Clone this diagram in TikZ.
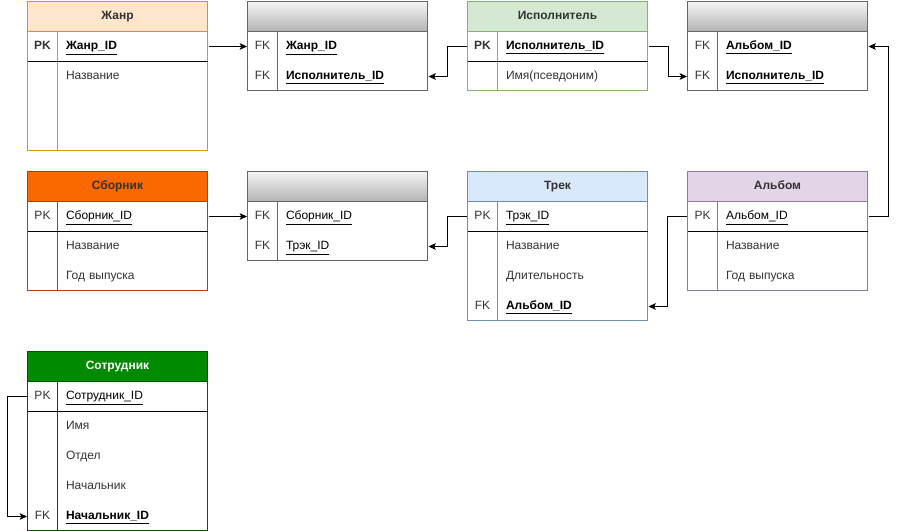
\documentclass[tikz,border=0pt]{standalone}
\usepackage{fontspec}
\setmainfont{Liberation Sans}
\usetikzlibrary{arrows.meta}

\definecolor{zhanrfill}{HTML}{FFE6CC}
\definecolor{zhanrline}{HTML}{D79B00}
\definecolor{ispfill}{HTML}{D5E8D4}
\definecolor{ispline}{HTML}{82B366}
\definecolor{sbfill}{HTML}{FA6800}
\definecolor{sbline}{HTML}{C73500}
\definecolor{trfill}{HTML}{DAE8FC}
\definecolor{trline}{HTML}{6C8EBF}
\definecolor{alfill}{HTML}{E1D5E7}
\definecolor{alline}{HTML}{9673A6}
\definecolor{sofill}{HTML}{008A00}
\definecolor{soline}{HTML}{005700}
\definecolor{jline}{HTML}{666666}
\definecolor{jtop}{HTML}{F5F5F5}
\definecolor{jbot}{HTML}{B3B3B3}
\definecolor{txt}{HTML}{333333}

\begin{document}
\begin{tikzpicture}[x=0.75pt,y=-0.75pt,line width=0.75pt,
    font=\fontsize{9}{11}\selectfont,
    head/.style={minimum width=135pt,minimum height=22.5pt,inner sep=0pt,
        text height=6.8pt,text depth=1.9pt,
        font=\fontsize{9}{11}\selectfont\bfseries,text=txt},
    junc/.style={head,draw=jline,top color=jtop,bottom color=jbot},
    key/.style={minimum width=22.5pt,minimum height=22.5pt,inner sep=0pt,
        text height=6.8pt,text depth=1.9pt,text=txt},
    field/.style={anchor=west,text width=100.5pt,inner xsep=6pt,inner ysep=0pt,
        text height=6.8pt,text depth=1.9pt,
        minimum height=22.5pt,align=left,text=txt},
    idf/.style={field,text=black},
    link/.style={-{Stealth[length=5.5pt,width=5pt,inset=1.2pt]},black}]
\useasboundingbox (-0.5,-0.5) rectangle (896.5,530.5);

% Жанр
\node[head,fill=zhanrfill,draw=zhanrline] (zhanr) at (117,16) {Жанр};
\draw[zhanrline] (27,31) rectangle (207,150) (57,31) -- (57,150);
\draw[black] (27,61) -- (207,61);
\node[key,font=\fontsize{9}{11}\selectfont\bfseries] (zhanrpk) at (42,46) {PK};
\node[idf] (zhanrid) at (57,46) {\textbf{\underline{Жанр\_ID}}};
\node[field] (zhanrname) at (57,76) {Название};

% Жанр -- Исполнитель
\node[junc] (jun1) at (337,16) {};
\draw[jline] (247,31) rectangle (427,90) (277,31) -- (277,90);
\node[key] (jun1fka) at (262,46) {FK};
\node[idf] (jun1zhanr) at (277,46) {\textbf{\underline{Жанр\_ID}}};
\node[key] (jun1fkb) at (262,76) {FK};
\node[idf] (jun1isp) at (277,76) {\textbf{\underline{Исполнитель\_ID}}};

% Исполнитель
\node[head,fill=ispfill,draw=ispline] (isp) at (557,16) {Исполнитель};
\draw[ispline] (467,31) rectangle (647,90) (497,31) -- (497,90);
\draw[black] (467,61) -- (647,61);
\node[key,font=\fontsize{9}{11}\selectfont\bfseries] (isppk) at (482,46) {PK};
\node[idf] (ispid) at (497,46) {\textbf{\underline{Исполнитель\_ID}}};
\node[field] (ispname) at (497,76) {Имя(псевдоним)};

% Альбом -- Исполнитель
\node[junc] (jun2) at (777,16) {};
\draw[jline] (687,31) rectangle (867,90) (717,31) -- (717,90);
\node[key] (jun2fka) at (702,46) {FK};
\node[idf] (jun2al) at (717,46) {\textbf{\underline{Альбом\_ID}}};
\node[key] (jun2fkb) at (702,76) {FK};
\node[idf] (jun2isp) at (717,76) {\textbf{\underline{Исполнитель\_ID}}};

% Сборник
\node[head,fill=sbfill,draw=sbline] (sb) at (117,186) {Сборник};
\draw[sbline] (27,201) rectangle (207,290) (57,201) -- (57,290);
\draw[black] (27,231) -- (207,231);
\node[key] (sbpk) at (42,216) {PK};
\node[idf] (sbid) at (57,216) {\underline{Сборник\_ID}};
\node[field] (sbname) at (57,246) {Название};
\node[field] (sbyear) at (57,276) {Год выпуска};

% Сборник -- Трек
\node[junc] (jun3) at (337,186) {};
\draw[jline] (247,201) rectangle (427,260) (277,201) -- (277,260);
\node[key] (jun3fka) at (262,216) {FK};
\node[idf] (jun3sb) at (277,216) {\underline{Сборник\_ID}};
\node[key] (jun3fkb) at (262,246) {FK};
\node[idf] (jun3tr) at (277,246) {\underline{Трэк\_ID}};

% Трек
\node[head,fill=trfill,draw=trline] (tr) at (557,186) {Трек};
\draw[trline] (467,201) rectangle (647,320) (497,201) -- (497,320);
\draw[black] (467,231) -- (647,231);
\node[key] (trpk) at (482,216) {PK};
\node[idf] (trid) at (497,216) {\underline{Трэк\_ID}};
\node[field] (trname) at (497,246) {Название};
\node[field] (trlen) at (497,276) {Длительность};
\node[key] (trfk) at (482,306) {FK};
\node[idf] (tral) at (497,306) {\textbf{\underline{Альбом\_ID}}};

% Альбом
\node[head,fill=alfill,draw=alline] (al) at (777,186) {Альбом};
\draw[alline] (687,201) rectangle (867,290) (717,201) -- (717,290);
\draw[black] (687,231) -- (867,231);
\node[key] (alpk) at (702,216) {PK};
\node[idf] (alid) at (717,216) {\underline{Альбом\_ID}};
\node[field] (alname) at (717,246) {Название};
\node[field] (alyear) at (717,276) {Год выпуска};

% Сотрудник
\node[head,fill=sofill,draw=soline,text=white] (so) at (117,366) {Сотрудник};
\draw[soline] (27,381) rectangle (207,530) (57,381) -- (57,530);
\draw[black] (27,411) -- (207,411);
\node[key] (sopk) at (42,396) {PK};
\node[idf] (soid) at (57,396) {\underline{Сотрудник\_ID}};
\node[field] (soname) at (57,426) {Имя};
\node[field] (sodep) at (57,456) {Отдел};
\node[field] (sochief) at (57,486) {Начальник};
\node[key] (sofk) at (42,516) {FK};
\node[idf] (sochiefid) at (57,516) {\textbf{\underline{Начальник\_ID}}};

% связи
\draw[link] (zhanrid.east) -- (jun1fka.west);
\draw[link] (isppk.west) -- ++(-20,0) |- (jun1isp.east);
\draw[link] (ispid.east) -- ++(20,0) |- (jun2fkb.west);
\draw[link] (alid.east) -- ++(20,0) |- (jun2al.east);
\draw[link] (sbid.east) -- (jun3fka.west);
\draw[link] (trpk.west) -- ++(-20,0) |- (jun3tr.east);
\draw[link] (alpk.west) -- ++(-20,0) |- (tral.east);
\draw[link] (sopk.west) -- ++(-20,0) |- (sofk.west);
\end{tikzpicture}
\end{document}
